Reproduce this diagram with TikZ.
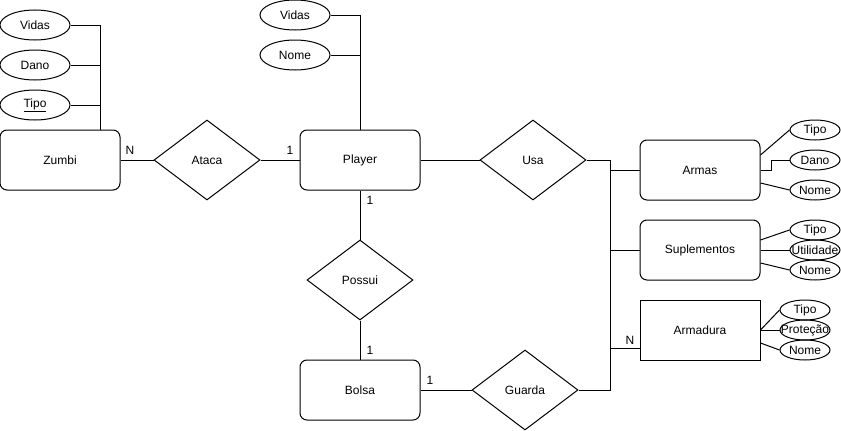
\documentclass[tikz,border=0pt]{standalone}
\usepackage{fontspec}
\setmainfont{Liberation Sans}
\usetikzlibrary{shapes.geometric}
\usetikzlibrary{positioning}

\begin{document}
\begin{tikzpicture}[
x=1pt, y=-1pt, line width=1pt,
font=\fontsize{12pt}{14pt}\selectfont,
entitynode/.style={rectangle, draw, rounded corners=7pt, minimum width=120pt, minimum height=60pt, inner sep=0pt},
plainentitynode/.style={rectangle, draw, minimum width=120pt, minimum height=60pt, inner sep=0pt},
relnode/.style={diamond, draw, minimum width=106pt, minimum height=80pt, inner sep=0pt},
attrnode/.style={ellipse, draw, minimum width=70pt, minimum height=30pt, inner sep=0pt},
smallattrnode/.style={ellipse, draw, minimum width=50pt, minimum height=20pt, inner sep=0pt},
cardnode/.style={inner sep=0pt},
]
\useasboundingbox (0,0) rectangle (841,431);

%Nodes
\node[entitynode]       at (60,160)     (zumbi)            [] {Zumbi};
\node[relnode]          at (207,160)    (ataca)            [] {Ataca};
\node[entitynode]       at (360,160)    (player)           [] {Player};
\node[relnode]          at (533,160)    (usa)              [] {Usa};
\node[relnode]          at (360,280)    (possui)           [] {Possui};
\node[entitynode]       at (360,390)    (bolsa)            [] {Bolsa};
\node[relnode]          at (525,390)    (guarda)           [] {Guarda};
\node[entitynode]       at (700,170)    (armas)            [] {Armas};
\node[entitynode]       at (700,250)    (suplementos)      [] {Suplementos};
\node[plainentitynode]  at (700,330)    (armadura)         [] {Armadura};

\node[attrnode]         at (35,25)      (zumbi_vidas)      [] {Vidas};
\node[attrnode]         at (35,65)      (zumbi_dano)       [] {Dano};
\node[attrnode]         at (35,105)     (zumbi_tipo)       [] {\underline{Tipo}};

\node[attrnode]         at (295,15)     (player_vidas)     [] {Vidas};
\node[attrnode]         at (295,55)     (player_nome)      [] {Nome};

\node[smallattrnode]    at (815,130)    (armas_tipo)       [] {Tipo};
\node[smallattrnode]    at (815,160)    (armas_dano)       [] {Dano};
\node[smallattrnode]    at (815,190)    (armas_nome)       [] {Nome};

\node[smallattrnode]    at (815,230)    (suplementos_tipo) [] {Tipo};
\node[smallattrnode]    at (815,250)    (suplementos_util) [] {\makebox[0pt]{Utilidade}};
\node[smallattrnode]    at (815,270)    (suplementos_nome) [] {Nome};

\node[smallattrnode]    at (805,310)    (armadura_tipo)    [] {Tipo};
\node[smallattrnode]    at (805,330)    (armadura_prot)    [] {\makebox[0pt]{Proteção}};
\node[smallattrnode]    at (805,350)    (armadura_nome)    [] {Nome};

\node[cardnode]         at (130,150)    (card_zumbi)       [] {N};
\node[cardnode]         at (290,150)    (card_player_a)    [] {1};
\node[cardnode]         at (370,200)    (card_player_p)    [] {1};
\node[cardnode]         at (370,350)    (card_bolsa_p)     [] {1};
\node[cardnode]         at (430,380)    (card_bolsa_g)     [] {1};
\node[cardnode]         at (630,340)    (card_armadura)    [] {N};

\coordinate (bus_top)    at (610,160);
\coordinate (bus_bottom) at (610,390);

%Lines
\draw (zumbi.east) -- (ataca.west);
\draw (ataca.east) -- (player.west);
\draw (player.east) -- (usa.west);
\draw (player.south) -- (possui.north);
\draw (possui.south) -- (bolsa.north);
\draw (bolsa.east) -- (guarda.west);

\draw (usa.east) -- (bus_top) -- (bus_bottom) -- (guarda.east);
\draw (armas.west) -- (armas.west -| bus_top);
\draw (suplementos.west) -- (suplementos.west -| bus_top);
\draw ([yshift=-18pt]armadura.west) -- ([yshift=-18pt]armadura.west -| bus_top);

\draw (zumbi_vidas.east) -| ([xshift=40pt]zumbi.north);
\draw (zumbi_dano.east) -- (zumbi_dano.east -| zumbi_tipo.east) -- ++(30,0);
\draw (zumbi_tipo.east) -- ++(30,0);

\draw (player_vidas.east) -| (player.north);
\draw (player_nome.east) -- (player_nome.east -| player.north);

\draw ([yshift=15pt]armas.east) -- (armas_tipo.west);
\draw (armas.east) -- ++(11,0) |- (armas_dano.west);
\draw ([yshift=-13pt]armas.east) -- (armas_nome.west);

\draw ([yshift=10pt]suplementos.east) -- (suplementos_tipo.west);
\draw (suplementos.east) -- (suplementos_util.west);
\draw ([yshift=-13pt]suplementos.east) -- (suplementos_nome.west);

\draw (armadura.east) -- (armadura_tipo.west);
\draw (armadura.east) -- (armadura_prot.west);
\draw ([yshift=-13pt]armadura.east) -- (armadura_nome.west);

\end{tikzpicture}
\end{document}
